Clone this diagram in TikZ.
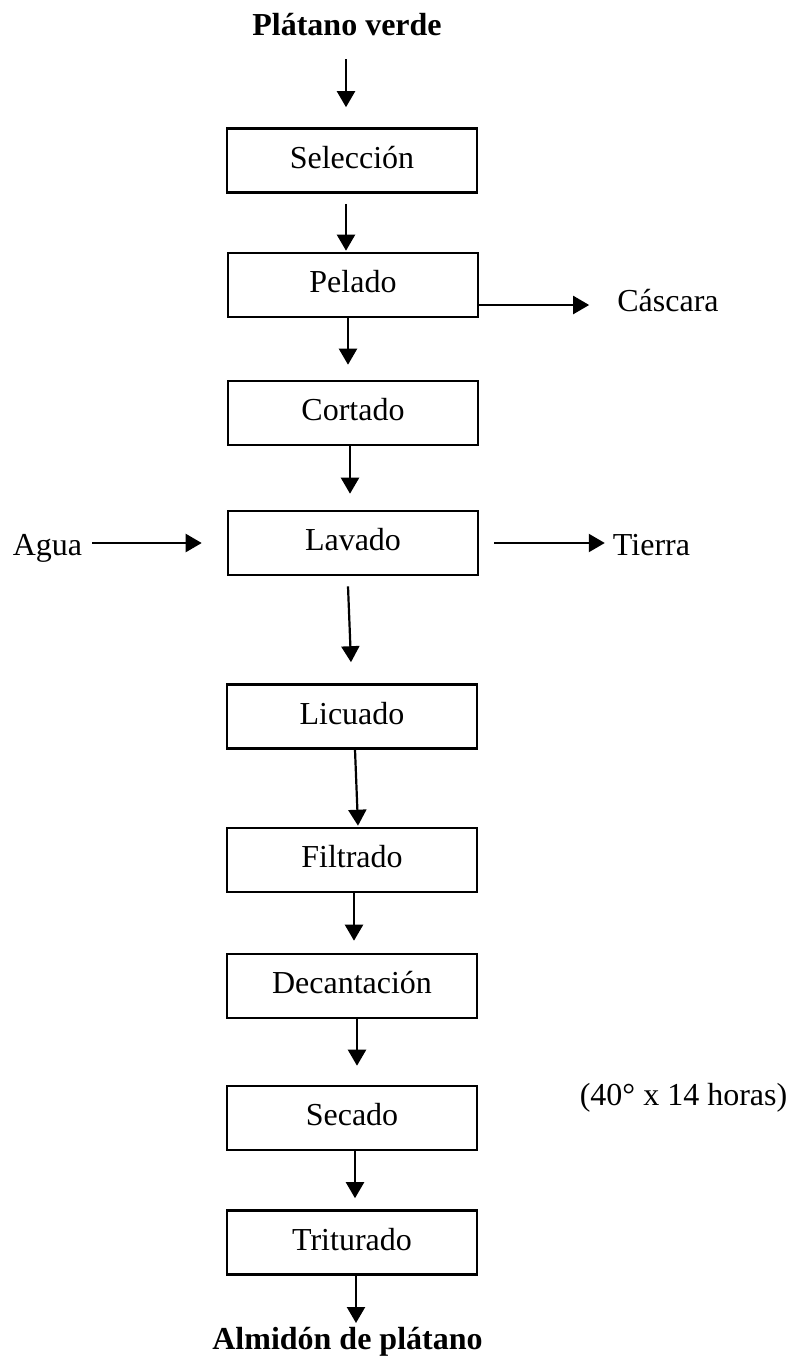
\documentclass[tikz,border=0pt]{standalone}
\usepackage{fontspec}
\setmainfont{Liberation Serif}
\usepackage{tikz}
\usetikzlibrary{positioning,calc,arrows.meta}

\begin{document}
\begin{tikzpicture}[x=1pt,y=1pt,
    font=\fontsize{32}{38}\selectfont,
    proc/.style={draw, line width=2.6pt, minimum width=250pt, minimum height=64pt, inner sep=0pt, text height=22pt, text depth=7pt},
    lbl/.style={inner sep=0pt, anchor=base},
    arr/.style={line width=2.2pt, -{Triangle[width=18pt,length=16pt]}}]
    \useasboundingbox (0,0) rectangle (792,-1360);

    % Main line
    \node[lbl] (top) at (347,-35) {\textbf{Plátano verde}};
    \node[proc] (sel) at (352,-160.5) {Selección};
    \node[proc] (pel) at (353,-285) {Pelado};
    \node[proc] (cor) at (353,-413) {Cortado};
    \node[proc] (lav) at (353,-543) {Lavado};
    \node[proc] (lic) at (352,-716.5) {Licuado};
    \node[proc] (fil) at (352,-860) {Filtrado};
    \node[proc] (dec) at (352,-986) {Decantación};
    \node[proc] (sec) at (352,-1118) {Secado};
    \node[proc] (tri) at (352,-1242.5) {Triturado};
    \node[lbl] (bot) at (347.5,-1349) {\textbf{Almidón de plátano}};

    % Side streams
    \node[lbl] (cas) at (668,-311) {Cáscara};
    \node[lbl] (agua) at (47.5,-555) {Agua};
    \node[lbl] (tierra) at (651.5,-555) {Tierra};
    \node[lbl] (cond) at (683.5,-1105) {(40° x 14 horas)};

    % Arrows down
    \draw[arr] ([xshift=-6pt,yshift=-24pt]sel.north |- top.base) -- ([xshift=-6pt,yshift=20pt]sel.north);
    \draw[arr] ([xshift=-6pt,yshift=-10pt]sel.south) -- ([xshift=-6pt,yshift=1pt]sel.south |- pel.north);
    \draw[arr] ([xshift=-5pt]pel.south) -- ([xshift=-5pt,yshift=15pt]cor.north);
    \draw[arr] ([xshift=-3pt]cor.south) -- ([xshift=-3pt,yshift=16pt]lav.north);
    \draw[arr] ([xshift=-5pt,yshift=-10pt]lav.south) -- ([xshift=-1pt,yshift=21pt]lic.north);
    \draw[arr] ([xshift=3pt]lic.south) -- ([xshift=6pt,yshift=1pt]fil.north);
    \draw[arr] ([xshift=2pt]fil.south) -- ([xshift=2pt,yshift=12pt]dec.north);
    \draw[arr] ([xshift=5pt]dec.south) -- ([xshift=5pt,yshift=19pt]sec.north);
    \draw[arr] ([xshift=3pt]sec.south) -- ([xshift=3pt,yshift=11pt]tri.north);
    \draw[arr] ([xshift=4pt]tri.south) -- ([xshift=4pt,yshift=26pt]tri.south |- bot.base);

    % Arrows sideways
    \draw[arr] ([yshift=-20pt]pel.east) -- ([xshift=-28pt,yshift=-20pt]pel.east -| cas.west);
    \draw[arr] ([xshift=10pt]agua.east |- lav.west) -- ([xshift=-25pt]lav.west);
    \draw[arr] ([xshift=15pt]lav.east) -- ([xshift=-8pt]lav.east -| tierra.west);

\end{tikzpicture}
\end{document}
